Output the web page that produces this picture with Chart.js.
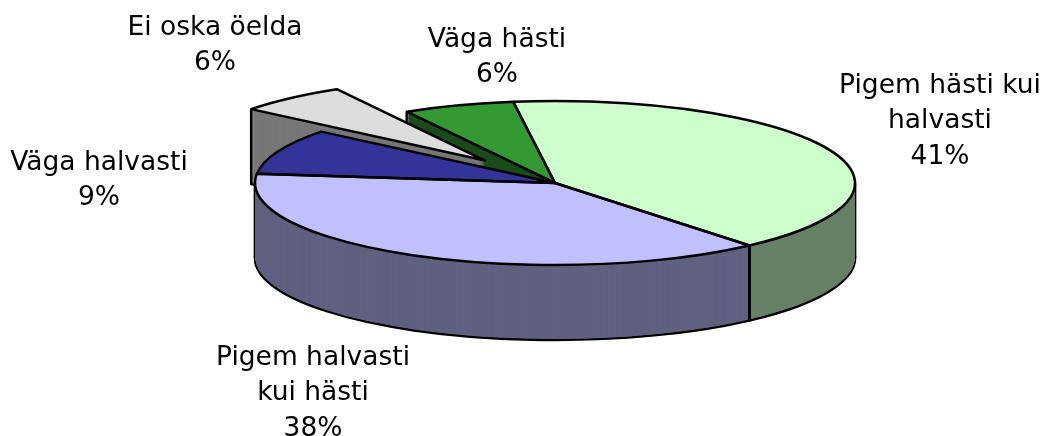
<!DOCTYPE html>
<html>
<head>
<meta charset="utf-8">
<script src="https://cdn.jsdelivr.net/npm/chart.js@4.4.1/dist/chart.umd.min.js"></script>
<style>
  html, body { margin: 0; padding: 0; background: #fff; }
  #wrap { width: 1047px; height: 436px; }
</style>
</head>
<body>
<div id="wrap"><canvas id="chart"></canvas></div>
<script>
// data
const categories = [['Pigem hästi kui', 'halvasti'], ['Pigem halvasti', 'kui hästi'], ['Väga halvasti'], ['Ei oska öelda'], ['Väga hästi']];
const shares = [41, 38, 9, 6, 6];

// look
const topColors = ['#CCFFCC', '#C0C0FF', '#333399', '#DDDDDD', '#339933'];
const sideColors = ['#668066', '#606080', '#1A1A4D', '#777777', '#1A4D1A'];
const explode = [0, 0, 0, 108, 0];
const labelPos = [[940, 86], [313, 358], [99, 163], [215, 28], [497, 40]];

const CX = 555, CY = 183, TILT = 82 / 300, DEPTH = 75, LINE = 2.5;

// squash the pie into an ellipse and stack darker copies under it for the walls
const pie3d = {
  id: 'pie3d',
  beforeDatasetsDraw(chart) {
    const ctx = chart.ctx;
    const arcs = chart.getDatasetMeta(0).data;
    const base = ctx.getTransform();

    const place = (arc, i, d) => {
      ctx.setTransform(base);
      ctx.translate(CX, CY + d);
      ctx.scale(1, TILT);
      ctx.translate(-arc.x, -arc.y);
      const h = (arc.startAngle + arc.endAngle) / 2;
      ctx.translate(Math.cos(h) * explode[i], Math.sin(h) * explode[i]);
    };
    const fill = (arc, i, d, color) => {
      const el = Object.create(arc);
      el.options = Object.assign({}, arc.options, { backgroundColor: color, borderWidth: 0, offset: 0 });
      ctx.save();
      place(arc, i, d);
      el.draw(ctx);
      ctx.restore();
    };
    const outline = (arc, i, d) => {
      ctx.save();
      place(arc, i, d);
      ctx.beginPath();
      ctx.moveTo(arc.x, arc.y);
      ctx.arc(arc.x, arc.y, arc.outerRadius, arc.startAngle, arc.endAngle);
      ctx.closePath();
      ctx.setTransform(base);
      ctx.lineWidth = LINE;
      ctx.lineJoin = 'round';
      ctx.strokeStyle = '#000';
      ctx.stroke();
      ctx.restore();
    };
    const rim = (arc, i, a) => {
      const h = (arc.startAngle + arc.endAngle) / 2;
      const e = explode[i];
      return [CX + Math.cos(a) * arc.outerRadius + Math.cos(h) * e,
              CY + TILT * (Math.sin(a) * arc.outerRadius + Math.sin(h) * e)];
    };
    // corners of every slice plus the left/right silhouette points
    const corners = arcs.map((arc, i) => {
      const angles = [arc.startAngle, arc.endAngle];
      for (let k = -2; k <= 3; k++) {
        const a = k * Math.PI;
        if (a > arc.startAngle && a < arc.endAngle) angles.push(a);
      }
      return angles.map(a => rim(arc, i, a));
    });

    // bottom layer with its outline
    arcs.forEach((arc, i) => fill(arc, i, DEPTH, sideColors[i]));
    arcs.forEach((arc, i) => outline(arc, i, DEPTH));
    // walls, one pixel at a time, vertical edges drawn with them so hidden parts get covered
    for (let d = DEPTH - 1; d >= 1; d--) {
      arcs.forEach((arc, i) => fill(arc, i, d, sideColors[i]));
      ctx.save();
      ctx.setTransform(base);
      ctx.fillStyle = '#000';
      corners.forEach(list => list.forEach(([x, y]) => {
        ctx.fillRect(x - LINE / 2, y + d - 0.5, LINE, 1.5);
      }));
      ctx.restore();
    }
    // top faces
    arcs.forEach((arc, i) => fill(arc, i, 0, topColors[i]));
    arcs.forEach((arc, i) => outline(arc, i, 0));
    ctx.setTransform(base);
    return false;
  }
};

const sliceLabels = {
  id: 'sliceLabels',
  afterDraw(chart) {
    const ctx = chart.ctx;
    const total = shares.reduce((s, v) => s + v, 0);
    ctx.save();
    ctx.font = '26.5px "DejaVu Sans", Verdana, sans-serif';
    ctx.fillStyle = '#000';
    ctx.textAlign = 'center';
    ctx.textBaseline = 'middle';
    categories.forEach((lines, i) => {
      const all = lines.concat([Math.round(shares[i] / total * 100) + '%']);
      const [x, y] = labelPos[i];
      all.forEach((t, j) => ctx.fillText(t, x, y + j * 35.5));
    });
    ctx.restore();
  }
};

new Chart(document.getElementById('chart'), {
  type: 'pie',
  data: {
    labels: categories,
    datasets: [{
      data: shares,
      backgroundColor: topColors,
      borderWidth: 0
    }]
  },
  options: {
    responsive: true,
    maintainAspectRatio: false,
    animation: false,
    events: [],
    rotation: -8,
    radius: 300,
    plugins: {
      legend: { display: false },
      tooltip: { enabled: false }
    }
  },
  plugins: [pie3d, sliceLabels]
});
</script>
</body>
</html>
